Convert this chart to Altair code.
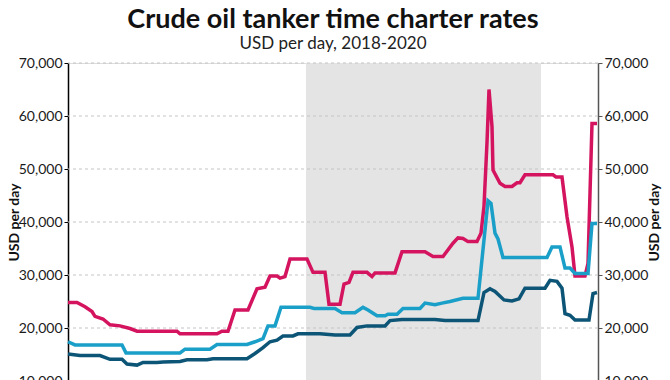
import altair as alt
import pandas as pd

# Weekly index (0 = start of 2018) and rates in USD per day
vlcc_week = [0, 2.25, 4.25, 6, 6.75, 8.75, 10.5, 13, 15.5, 17.25, 27.25, 28, 37.25, 38.5, 40,
             41.75, 45, 47.25, 49.25, 50.5, 52.25, 53, 54.25, 55.5, 59.75, 61.25, 64.25, 65.25,
             68, 69, 70.25, 71.25, 74.75, 76, 76.75, 81.75, 83.5, 89.25, 91.25, 93.75, 96.25,
             97.5, 98.75, 100, 102.25, 103.25, 104, 104.75, 105.25, 106, 106.25, 108, 109.25,
             111, 112.25, 113, 114.25, 121.25, 122, 123.5, 124.75, 126, 126.75, 129.25, 130,
             131, 132.25]
vlcc_rate = [24800, 24800, 24000, 23100, 22200, 21700, 20600, 20400, 19900, 19400, 19400, 18900,
             18900, 19400, 19400, 23400, 23400, 27400, 27700, 29800, 29800, 29400, 29700, 33000,
             33000, 30500, 30500, 24500, 24500, 28300, 28600, 30500, 30500, 29700, 30400, 30400,
             34400, 34400, 33500, 33500, 36000, 37000, 36900, 36300, 36300, 37900, 43000, 55000,
             65000, 58000, 49800, 47300, 46700, 46700, 47400, 47400, 48900, 48900, 48500, 48500,
             41000, 35300, 29800, 29800, 32200, 58600, 58600]

suez_week = [0, 1.75, 13.5, 14.5, 28, 29.25, 35.5, 37.25, 44.75, 46.75, 48.75, 50, 51.75, 53.25,
             60.5, 61.5, 66.75, 68.5, 71.75, 73.75, 75, 77.25, 79.25, 80, 82.25, 83.75, 88, 89.25,
             91.75, 93.5, 95.5, 98.75, 102.5, 105, 105.75, 106.75, 107.5, 108.75, 119.75, 121,
             123, 124.25, 125.5, 126.75, 130, 131, 132.25]
suez_rate = [17400, 16800, 16800, 15300, 15300, 16000, 16000, 16900, 16900, 17400, 18000, 20400,
             20400, 23900, 23900, 23700, 23700, 22900, 22900, 23900, 23400, 22300, 22300, 22600,
             22600, 23700, 23700, 24700, 24400, 24700, 25000, 25600, 25600, 44000, 43500, 37900,
             36800, 33300, 33300, 35300, 35300, 31300, 31300, 30300, 30300, 39700, 39700]

afra_week = [0, 3, 8, 10.5, 13.5, 14.75, 17.25, 18.75, 22.25, 23.75, 28, 29.75, 34.75, 36.25,
             44.75, 46.75, 48.75, 50.5, 52.25, 53.75, 56.25, 57.5, 63, 66.75, 70.5, 72.25, 74.75,
             79.25, 80.5, 83.5, 91.75, 94.25, 102.5, 104, 105.5, 106.75, 109, 111, 112.75, 114.25,
             119.25, 120.5, 122.25, 123.5, 124.25, 125.5, 126.75, 130.25, 131.25, 132.25]
afra_rate = [15100, 14800, 14800, 14100, 14100, 13200, 13000, 13500, 13500, 13600, 13700, 14000,
             14000, 14200, 14200, 15200, 16300, 17400, 17700, 18500, 18500, 18900, 18900, 18700,
             18700, 20100, 20400, 20400, 21400, 21600, 21600, 21400, 21400, 26700, 27400, 26900,
             25300, 25100, 25500, 27500, 27500, 29000, 28800, 27500, 22700, 22400, 21500, 21500,
             26500, 26700]

series_names = ["VLCC", "Suezmax", "Aframax"]
series_colors = ["#d4145f", "#1a9fc8", "#0d5576"]

band_start = [59.5]
band_end = [118.25]
grid_values = [10000, 20000, 30000, 40000, 50000, 60000, 70000]

rows = []
for name, wk, rt in zip(series_names, [vlcc_week, suez_week, afra_week],
                        [vlcc_rate, suez_rate, afra_rate]):
    for w, r in zip(wk, rt):
        rows.append({"series": name, "week": w, "rate": r})
df = pd.DataFrame(rows)

band_df = pd.DataFrame({"start": band_start, "end": band_end})
grid_df = pd.DataFrame({"v": grid_values})

FONT = "Lato"
xscale = alt.Scale(domain=[0, 132.5], nice=False, zero=False)
yscale = alt.Scale(domain=[10000, 70000], nice=False, zero=False)

band = alt.Chart(band_df).mark_rect(color="#e4e4e4").encode(
    x=alt.X("start:Q", scale=xscale, axis=None),
    x2="end:Q",
)

grid = alt.Chart(grid_df).mark_rule(color="#c4c4c4", strokeDash=[3, 3], strokeWidth=1).encode(
    y=alt.Y("v:Q", scale=yscale, axis=None),
)

lines = alt.Chart(df).mark_line(strokeWidth=3.5, interpolate="linear").encode(
    x=alt.X("week:Q", scale=xscale, axis=None),
    y=alt.Y("rate:Q", scale=yscale,
            axis=alt.Axis(orient="left", title="USD per day", values=grid_values,
                          format=",d", grid=False, domainColor="#000000", domainWidth=1.5,
                          tickColor="#000000", tickSize=4, labelFontSize=14,
                          labelColor="#1a1a1a", labelFont=FONT, labelPadding=2,
                          titleFont=FONT, titleFontSize=14, titleFontWeight="bold",
                          titleColor="#111111", titleAngle=270, titleBaseline="bottom",
                          titleX=-47)),
    color=alt.Color("series:N", scale=alt.Scale(domain=series_names, range=series_colors),
                    legend=None),
    detail="series:N",
)

right = alt.Chart(df).mark_line(opacity=0).encode(
    x=alt.X("week:Q", scale=xscale, axis=None),
    y=alt.Y("rate:Q", scale=yscale,
            axis=alt.Axis(orient="right", title="USD per day", values=grid_values,
                          format=",d", grid=False, domainColor="#555555", domainWidth=1.5,
                          tickColor="#555555", tickSize=4, labelFontSize=14,
                          labelColor="#1a1a1a", labelFont=FONT, labelPadding=2,
                          titleFont=FONT, titleFontSize=14, titleFontWeight="bold",
                          titleColor="#111111", titleAngle=270, titleBaseline="bottom",
                          titleX=63)),
    detail="series:N",
)

chart = alt.layer(band, grid, lines, right).resolve_axis(y="independent").properties(
    width=530,
    height=318,
    title=alt.TitleParams(
        text="Crude oil tanker time charter rates",
        subtitle="USD per day, 2018-2020",
        anchor="middle",
        font=FONT,
        fontSize=27,
        fontWeight="bold",
        color="#111111",
        subtitleFont=FONT,
        subtitleFontSize=17,
        subtitleColor="#222222",
        subtitlePadding=2,
        offset=3,
    ),
    autosize=alt.AutoSizeParams(type="none"),
    padding={"left": 60, "top": 55, "right": 64, "bottom": 8},
).configure_view(stroke=None).configure(background="white")

chart.save("out.html", embed_options={"renderer": "svg", "actions": False})
